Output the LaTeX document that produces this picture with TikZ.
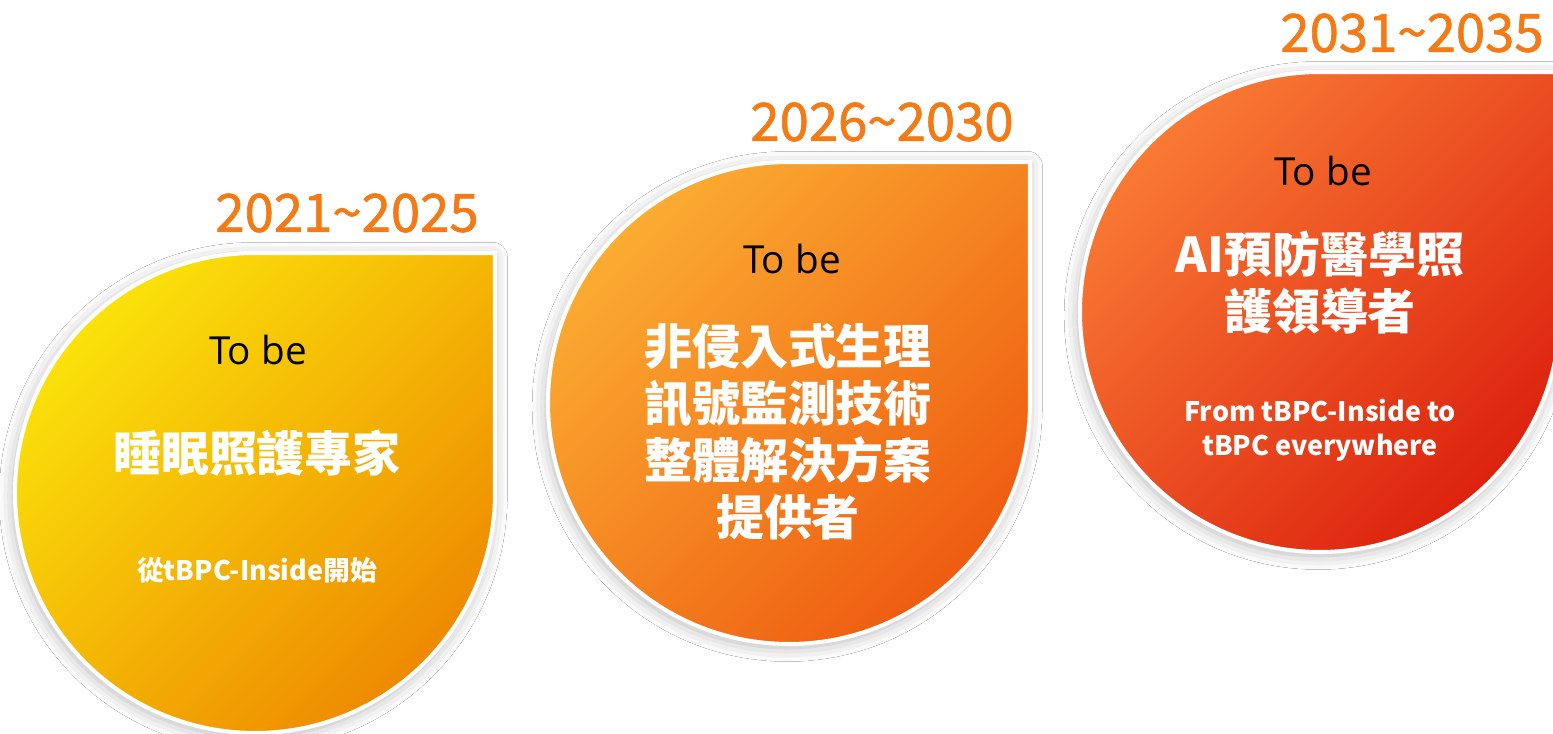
\documentclass[tikz,border=0pt]{standalone}
\usepackage{fontspec}
\setmainfont{Noto Sans CJK TC}
\newfontfamily\latinfont{Open Sans}
\newfontfamily\yearfont[FakeBold=1.2]{Noto Sans CJK TC}
\usetikzlibrary{shadows.blur}
\definecolor{yearorange}{RGB}{243,122,20}
\definecolor{yellowA}{RGB}{250,226,10}
\definecolor{yellowB}{RGB}{238,138,0}
\definecolor{orangeA}{RGB}{251,172,50}
\definecolor{orangeB}{RGB}{238,92,16}
\definecolor{redA}{RGB}{249,122,52}
\definecolor{redB}{RGB}{220,34,14}
\tikzstyle{drop} = [draw=white, line width=2.3pt,
  blur shadow={shadow xshift=-1pt, shadow yshift=-2pt, shadow blur radius=8pt, shadow opacity=30}]
\tikzstyle{year} = [anchor=east, inner sep=0pt, text=yearorange, font=\yearfont\fontsize{30}{33}\selectfont]
\tikzstyle{tobe} = [inner sep=0pt, text=black, font=\latinfont\fontsize{22}{26}\selectfont]
\tikzstyle{title} = [inner sep=0pt, align=center, text=white, font=\bfseries\fontsize{27.3}{32.5}\selectfont]
\tikzstyle{note} = [inner sep=0pt, align=center, text=white, font=\bfseries\fontsize{15.3}{19.3}\selectfont]

\begin{document}
\begin{tikzpicture}[x=0.02cm,y=0.02cm]
\useasboundingbox (0,0) rectangle (1553,734);
\fill [white] (0,0) rectangle (1553,734);
% drops
\path [drop, top color=yellowA, bottom color=yellowB, shading angle=45]
  (255,481) -- (495,481) -- (495,241) arc [start angle=0, end angle=-270, radius=240] -- cycle;
\path [drop, top color=orangeA, bottom color=orangeB, shading angle=45]
  (789,572) -- (1030,572) -- (1030,331) arc [start angle=0, end angle=-270, radius=241] -- cycle;
\path [drop, top color=redA, bottom color=redB, shading angle=45]
  (1320,662) -- (1560,662) -- (1560,422) arc [start angle=0, end angle=-270, radius=240] -- cycle;
% years
\node (year1) at (479,521) [year] {2021\textasciitilde2025};
\node (year2) at (1014,612) [year] {2026\textasciitilde2030};
\node (year3) at (1544,701) [year] {2031\textasciitilde2035};
% texts
\node (tobe1) at (258,384) [tobe] {To be};
\node (tobe2) at (792,475) [tobe] {To be};
\node (tobe3) at (1323,563) [tobe] {To be};
\node (title1) at (257,281) [title] {睡眠照護專家};
\node (title2) at (788,302) [title] {非侵入式生理\\訊號監測技術\\整體解決方案\\提供者};
\node (title3) at (1320,451) [title] {AI預防醫學照\\護領導者};
\node (note1) at (257,164) [note] {從tBPC-Inside開始};
\node (note3) at (1320,304) [note] {From tBPC-Inside to\\tBPC everywhere};
\end{tikzpicture}
\end{document}
